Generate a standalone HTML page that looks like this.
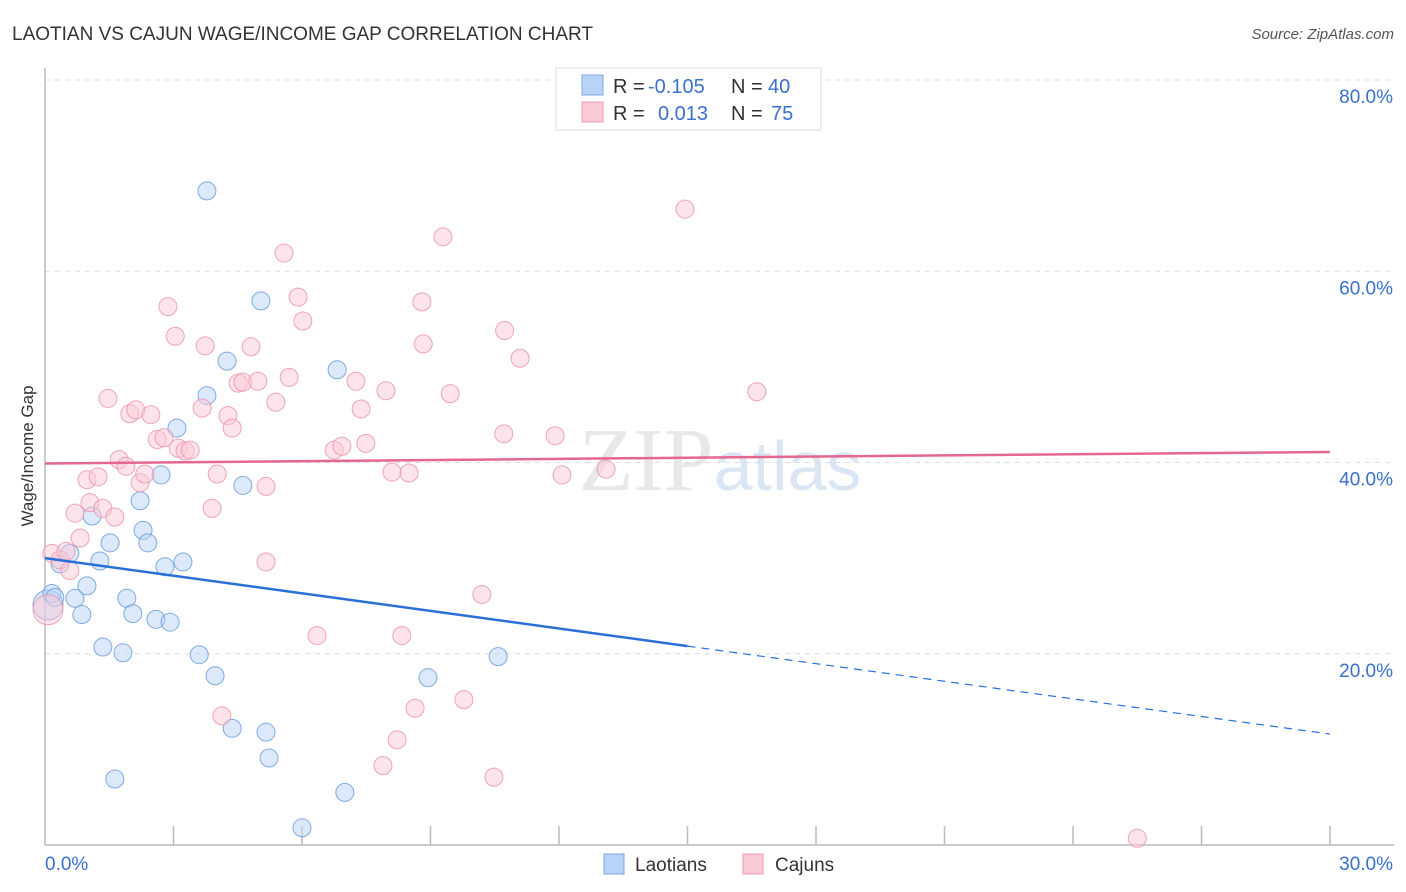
<!DOCTYPE html>
<html><head><meta charset="utf-8"><style>
body{margin:0;background:#fff;font-family:"Liberation Sans",sans-serif}
svg{display:block}
</style></head><body>
<svg id="chart" width="1406" height="892" xmlns="http://www.w3.org/2000/svg">
<text x="12" y="40" font-size="19" fill="#333">LAOTIAN VS CAJUN WAGE/INCOME GAP CORRELATION CHART</text>
<text x="1394" y="39" font-size="15" fill="#555" text-anchor="end" font-style="italic">Source: ZipAtlas.com</text>
<text x="720" y="490" font-size="90" fill="#e8e8e8" text-anchor="middle" font-family="Liberation Serif">ZIP<tspan fill="#dae6f4" font-family="Liberation Sans" font-size="70">atlas</tspan></text>
<g id="grid"></g>
<g id="axes"></g>
<g id="marks"></g>
<g id="trends"></g>
<text transform="translate(33,456) rotate(-90)" font-size="17" fill="#333" text-anchor="middle">Wage/Income Gap</text>
<g font-size="20">
<rect x="556" y="68" width="265" height="62" fill="#fff" stroke="#ddd"/>
<rect x="582" y="75" width="21" height="20" fill="#b9d3f6" stroke="#7aa7e3"/>
<rect x="582" y="102" width="21" height="20" fill="#fcc9d6" stroke="#ee9ab2"/>
<text x="613" y="93" fill="#333">R =</text>
<text x="648" y="93" fill="#3a70cc">-0.105</text>
<text x="731" y="93" fill="#333">N =</text>
<text x="768" y="93" fill="#3a70cc">40</text>
<text x="613" y="120" fill="#333">R =</text>
<text x="658" y="120" fill="#3a70cc">0.013</text>
<text x="731" y="120" fill="#333">N =</text>
<text x="771" y="120" fill="#3a70cc">75</text>
</g>
<g>
<rect x="604" y="854" width="20" height="20" fill="#b9d3f6" stroke="#7aa7e3"/>
<text x="635" y="871" font-size="19" fill="#333">Laotians</text>
<rect x="743" y="854" width="20" height="20" fill="#fcc9d6" stroke="#ee9ab2"/>
<text x="775" y="871" font-size="19" fill="#333">Cajuns</text>
</g>
</svg>
<script>
const yTicks=[20,40,60,80];
const xTickCount=10;
const xLabels=["0.0%","30.0%"];
const laoX=[0.07,0.16,0.23,0.35,0.58,0.70,0.86,0.98,1.10,1.28,1.35,1.52,1.63,1.82,1.91,2.05,2.22,2.29,2.40,2.59,2.71,2.80,2.92,3.08,3.22,3.60,3.78,3.78,3.97,4.25,4.37,4.62,5.04,5.16,5.23,6.00,6.82,7.00,8.94,10.58];
const laoY=[25.1,26.3,25.9,29.4,30.5,25.8,24.1,27.1,34.4,29.7,20.7,31.6,6.9,20.1,25.8,24.2,36.0,32.9,31.6,23.6,38.7,29.1,23.3,43.6,29.6,19.9,68.4,47.0,17.7,50.6,12.2,37.6,56.9,11.8,9.1,1.8,49.7,5.5,17.5,19.7];
const cajX=[0.07,0.16,0.35,0.49,0.58,0.70,0.82,0.98,1.05,1.24,1.35,1.47,1.63,1.73,1.89,1.98,2.12,2.22,2.33,2.47,2.62,2.78,2.87,3.04,3.11,3.27,3.39,3.67,3.74,3.90,4.02,4.13,4.27,4.37,4.51,4.62,4.81,4.97,5.16,5.16,5.39,5.58,5.70,5.91,6.02,6.35,6.75,6.93,7.26,7.38,7.49,7.89,7.96,8.10,8.22,8.33,8.50,8.64,8.80,8.83,9.29,9.46,9.78,10.20,10.48,10.71,10.73,11.09,11.91,12.07,13.10,14.94,16.62,17.65,25.5];
const cajY=[24.6,30.5,29.8,30.7,28.7,34.7,32.1,38.2,35.8,38.5,35.2,46.7,34.3,40.3,39.6,45.1,45.5,37.9,38.8,45.0,42.4,42.6,56.3,53.2,41.5,41.2,41.3,45.7,52.2,35.2,38.8,13.5,44.9,43.6,48.3,48.4,52.1,48.5,37.5,29.6,46.3,61.9,48.9,57.3,54.8,21.9,41.3,41.7,48.5,45.6,42.0,8.3,47.5,39.0,11.0,21.9,38.9,14.3,56.8,52.4,63.6,47.2,15.2,26.2,7.1,43.0,53.8,50.9,42.8,38.7,39.3,66.5,47.4,79.8,0.7];
const laoTrend=[30.0,11.6];
const laoSolidEnd=15;
const cajTrend=[39.9,41.1];
const X0=45,X1=1330,Y0=845,PPU=9.5625;
const sx=v=>X0+(v/30)*(X1-X0);
const sy=v=>Y0-v*PPU;
const NS="http://www.w3.org/2000/svg";
function mk(tag,attrs,parent){const e=document.createElementNS(NS,tag);for(const k in attrs)e.setAttribute(k,attrs[k]);document.getElementById(parent).appendChild(e);return e;}
yTicks.forEach(t=>{
 const l=mk('line',{x1:X0,x2:1394,y1:sy(t),y2:sy(t),stroke:'#ddd','stroke-dasharray':'5,5'},'grid');
 
 
 const tx=mk('text',{x:1393,y:sy(t)+23,'font-size':19,fill:'#3a70cc','text-anchor':'end'},'grid');
 tx.textContent=t.toFixed(1)+'%';
 
 
});
const ax=mk('line',{x1:X0,x2:1394,y1:Y0,y2:Y0,stroke:'#bbb','stroke-width':1.5},'axes');


const ay=mk('line',{x1:X0,x2:X0,y1:68,y2:Y0,stroke:'#bbb','stroke-width':1.5},'axes');


for(let i=1;i<=xTickCount;i++){
 const v=i*30/xTickCount;
 const t=mk('line',{x1:sx(v),x2:sx(v),y1:826,y2:Y0,stroke:'#bbb','stroke-width':1.5},'axes');
 
 
}
[[0,'start'],[30,'end']].forEach((p,i)=>{
 const tx=mk('text',{x:sx(p[0])+(i?63:0),y:870,'font-size':19,fill:'#3a70cc','text-anchor':p[1]},'axes');
 tx.textContent=xLabels[i];
 
 
});
function pts(xs,ys,fill,stroke,name,bigR){
 xs.forEach((x,i)=>{
  const r=(i===0)?bigR:9;
  const c=mk('circle',{cx:sx(x),cy:sy(ys[i]),r:r,fill:fill,'fill-opacity':0.5,stroke:stroke,'stroke-width':1,'stroke-opacity':0.85},'marks');
  
  
 });
}
pts(laoX,laoY,'#b9d3f6','#6a9de0','laotian-point',15);
pts(cajX,cajY,'#fcc9d6','#ec95ae','cajun-point',15);
const laoAt=v=>laoTrend[0]+(laoTrend[1]-laoTrend[0])*v/30;
const l1=mk('line',{x1:sx(0),y1:sy(laoAt(0)),x2:sx(laoSolidEnd),y2:sy(laoAt(laoSolidEnd)),stroke:'#2a6fd8','stroke-width':2.5},'trends');


const l2=mk('line',{x1:sx(laoSolidEnd),y1:sy(laoAt(laoSolidEnd)),x2:sx(30),y2:sy(laoAt(30)),stroke:'#2a6fd8','stroke-width':1.2,'stroke-dasharray':'8,6'},'trends');


const l3=mk('line',{x1:sx(0),y1:sy(cajTrend[0]),x2:sx(30),y2:sy(cajTrend[1]),stroke:'#e4678f','stroke-width':2.5},'trends');


</script>
</body></html>
